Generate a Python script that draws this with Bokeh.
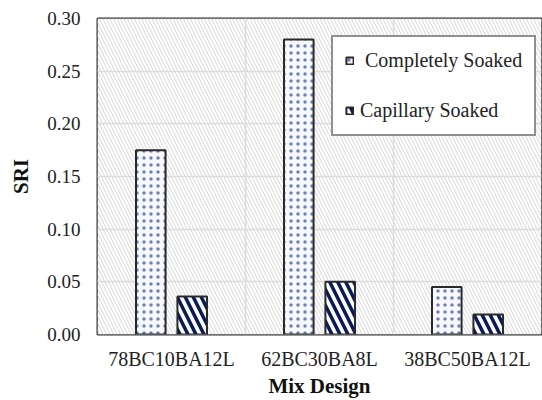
from bokeh.plotting import figure
from bokeh.models import (ColumnDataSource, FactorRange, BoxAnnotation, Legend, LegendItem,
                          FixedTicker, NumeralTickFormatter, Span)
from bokeh.transform import dodge
from bokeh.embed import file_html
from bokeh.resources import INLINE

categories = ["78BC10BA12L", "62BC30BA8L", "38BC50BA12L"]
completely_soaked = [0.175, 0.280, 0.045]
capillary_soaked = [0.036, 0.050, 0.019]
y_ticks = [0.0, 0.05, 0.10, 0.15, 0.20, 0.25, 0.30]

src = ColumnDataSource(dict(cat=categories, comp=completely_soaked, cap=capillary_soaked))

FONT = "Liberation Serif"

p = figure(x_range=FactorRange(*categories), y_range=(0, 0.30),
           width=542, height=400, output_backend="svg", toolbar_location=None,
           min_border_left=97, min_border_top=18, min_border_right=1, min_border_bottom=66)

p.background_fill_color = "white"
p.border_fill_color = "white"
p.outline_line_color = "#333333"
p.outline_line_width = 2

bg = BoxAnnotation(fill_color="white", fill_alpha=1.0, line_color=None,
                   hatch_pattern="\\", hatch_color="#d6d6d6", hatch_scale=7,
                   hatch_weight=1, level="image")
p.add_layout(bg)

r1 = p.vbar(x=dodge("cat", -0.14, range=p.x_range), top="comp", width=0.2, source=src,
            fill_color="#f7f8fc", line_color="#2a2a2a", line_width=2,
            hatch_pattern="dot", hatch_color="#7080b4", hatch_scale=7, hatch_weight=1.6)
r2 = p.vbar(x=dodge("cat", 0.14, range=p.x_range), top="cap", width=0.2, source=src,
            fill_color="white", line_color="#2a2a2a", line_width=2,
            hatch_pattern="\\", hatch_color="#0b1a58", hatch_scale=16, hatch_weight=3.5)

p.xgrid.grid_line_color = None
p.ygrid.grid_line_color = "#dcdcdc"
p.ygrid.grid_line_width = 1.5
p.ygrid.level = "underlay"
for loc in range(1, len(categories)):
    p.add_layout(Span(location=loc, dimension="height", line_color="#dcdcdc",
                      line_width=1.5, level="underlay"))

p.yaxis.ticker = FixedTicker(ticks=y_ticks)
p.yaxis.formatter = NumeralTickFormatter(format="0.00")

for ax in (p.xaxis[0], p.yaxis[0]):
    ax.axis_line_color = None
    ax.major_tick_line_color = None
    ax.minor_tick_line_color = None
    ax.major_tick_out = 0
    ax.major_tick_in = 0
    ax.minor_tick_out = 0
    ax.major_label_text_font = FONT
    ax.major_label_text_color = "#222222"
    ax.axis_label_text_font = FONT
    ax.axis_label_text_font_style = "bold"
    ax.axis_label_text_font_size = "21px"
    ax.axis_label_text_color = "#111111"

p.xaxis.major_label_text_font_size = "20px"
p.yaxis.major_label_text_font_size = "19px"
p.xaxis.axis_label = "Mix Design"
p.yaxis.axis_label = "SRI"
p.xaxis.major_label_standoff = 13
p.xaxis.axis_label_standoff = 1
p.yaxis.major_label_standoff = 17
p.yaxis.axis_label_standoff = 11

legend = Legend(items=[LegendItem(label=" Completely Soaked", renderers=[r1]),
                       LegendItem(label="Capillary Soaked", renderers=[r2])],
                location=(234, 198))
legend.label_text_font = FONT
legend.label_text_font_size = "20px"
legend.label_text_color = "#222222"
legend.glyph_width = 9
legend.glyph_height = 9
legend.label_standoff = 6
legend.label_height = 20
legend.label_width = 154
legend.padding = 12
legend.spacing = 27
legend.margin = 0
legend.border_line_color = "#222222"
legend.border_line_width = 2
legend.background_fill_color = "white"
legend.background_fill_alpha = 1.0
p.add_layout(legend)

open("out.html", "w").write(file_html(p, INLINE))
